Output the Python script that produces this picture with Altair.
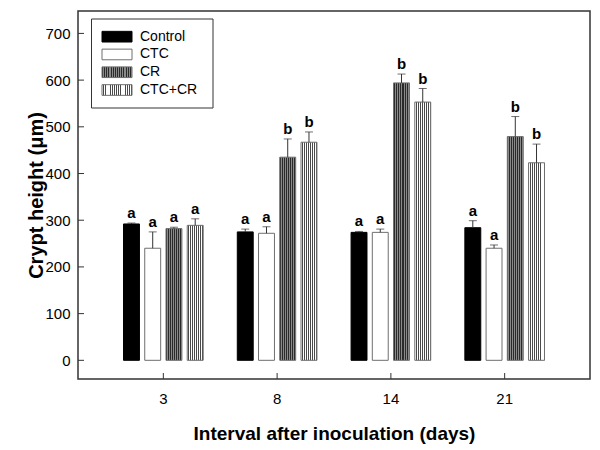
import altair as alt
import pandas as pd

groups = ["3", "8", "14", "21"]
treatments = ["Control", "CTC", "CR", "CTC+CR"]

mean_control = [292, 275, 274, 284]
mean_ctc = [240, 272, 274, 240]
mean_cr = [282, 435, 594, 479]
mean_ctccr = [289, 467, 553, 423]

err_control = [2, 6, 2, 15]
err_ctc = [35, 14, 7, 7]
err_cr = [3, 39, 19, 43]
err_ctccr = [14, 22, 29, 40]

let_control = ["a", "a", "a", "a"]
let_ctc = ["a", "a", "a", "a"]
let_cr = ["a", "b", "b", "b"]
let_ctccr = ["a", "b", "b", "b"]

y_ticks = [0, 100, 200, 300, 400, 500, 600, 700]

means = [mean_control, mean_ctc, mean_cr, mean_ctccr]
errs = [err_control, err_ctc, err_cr, err_ctccr]
lets = [let_control, let_ctc, let_cr, let_ctccr]

rows = []
for gi, g in enumerate(groups):
    for ti, t in enumerate(treatments):
        rows.append({"group": g, "treatment": t, "mean": means[ti][gi],
                     "err": errs[ti][gi], "letter": lets[ti][gi]})
df = pd.DataFrame(rows)


def stripes(c1, c2, n, frac):
    stops = []
    for i in range(n):
        a = i / n
        b = (i + frac) / n
        c = (i + 1) / n
        stops += [{"offset": a, "color": c1}, {"offset": b, "color": c1},
                  {"offset": b, "color": c2}, {"offset": c, "color": c2}]
    return {"gradient": "linear", "x1": 0, "y1": 0, "x2": 1, "y2": 0, "stops": stops}


def fill_cond(n):
    return {
        "condition": [
            {"test": "datum.treatment === 'Control'", "value": "#000000"},
            {"test": "datum.treatment === 'CTC'", "value": "#ffffff"},
            {"test": "datum.treatment === 'CR'", "value": stripes("#2a2a2a", "#8a8a8a", n, 0.5)},
        ],
        "value": stripes("#ffffff", "#4a4a4a", n, 0.6),
    }


stroke_cond = {
    "condition": [{"test": "datum.treatment === 'Control'", "value": "#000000"}],
    "value": "#6f6f6f",
}

x_enc = alt.X("group:N", sort=groups,
              scale=alt.Scale(paddingInner=0.3, paddingOuter=0.4),
              axis=alt.Axis(ticks=False, domain=False, grid=False, labelAngle=0,
                            labelPadding=12, labelFontSize=15,
                            title="Interval after inoculation (days)",
                            titleFontSize=19, titleFontWeight="bold",
                            titleY=54, titleBaseline="middle"))
x_plain = alt.X("group:N", sort=groups)
xo_enc = alt.XOffset("treatment:N", sort=treatments,
                     scale=alt.Scale(paddingInner=0.25, paddingOuter=0))

y_enc = alt.Y("mean:Q", scale=alt.Scale(domain=[-40, 748], nice=False),
              axis=alt.Axis(values=y_ticks, ticks=False, domain=False, grid=False,
                            labelPadding=8, labelFontSize=15,
                            title="Crypt height (μm)", titleFontSize=20,
                            titleFontWeight="bold", titleX=-42, titleY=184,
                            titleAngle=270, titleAlign="center",
                            titleBaseline="middle"))

base = alt.Chart(df).transform_calculate(top="datum.mean + datum.err")

bars = base.mark_bar(strokeWidth=1).encode(
    x=x_enc, xOffset=xo_enc, y=y_enc, fill=fill_cond(8), stroke=stroke_cond)

err_rule = base.mark_rule(color="#333333", strokeWidth=1).encode(
    x=x_plain, xOffset=xo_enc, y=alt.Y("mean:Q"), y2=alt.Y2("top:Q"))

err_cap = base.mark_tick(color="#333333", size=8, thickness=1).encode(
    x=x_plain, xOffset=xo_enc, y=alt.Y("top:Q"))

letters = base.mark_text(fontWeight="bold", fontSize=15, baseline="alphabetic",
                         dy=-5, color="black").encode(
    x=x_plain, xOffset=xo_enc, y=alt.Y("top:Q"), text="letter:N")

x_ticks = alt.Chart(pd.DataFrame({"group": groups})).mark_rule(
    color="#333333", strokeWidth=1).encode(
    x=x_plain, y=alt.value(362), y2=alt.value(368))

y_tick_marks = alt.Chart(pd.DataFrame({"mean": y_ticks})).mark_rule(
    color="#333333", strokeWidth=1).encode(
    y=alt.Y("mean:Q"), x=alt.value(0), x2=alt.value(6))

main = alt.layer(bars, err_rule, err_cap, letters, x_ticks, y_tick_marks)

leg_df = pd.DataFrame({"treatment": treatments})
leg_y = alt.Y("treatment:N", sort=treatments,
              scale=alt.Scale(range=[16.8, 87.9], paddingInner=0.4, paddingOuter=0.2),
              axis=None)

leg_box = alt.Chart(pd.DataFrame({"k": [0]})).mark_rect(
    fill="white", stroke="#333333", strokeWidth=1).encode(
    x=alt.value(13.5), x2=alt.value(135), y=alt.value(8), y2=alt.value(97))

leg_rect = alt.Chart(leg_df).mark_rect(strokeWidth=1).encode(
    x=alt.value(24), x2=alt.value(54), y=leg_y, fill=fill_cond(14), stroke=stroke_cond)

leg_text = alt.Chart(leg_df).mark_text(align="left", baseline="middle",
                                       fontSize=14, color="black").encode(
    x=alt.value(62), y=leg_y, text="treatment:N")

legend = alt.layer(leg_box, leg_rect, leg_text)

chart = alt.layer(main, legend).resolve_scale(y="independent").properties(
    width=512, height=368,
    padding={"left": 70, "top": 3, "right": 2, "bottom": 68},
    autosize=alt.AutoSizeParams(type="none"),
).configure(font="Liberation Sans").configure_view(
    stroke="#333333", strokeWidth=1.5
).configure_axis(labelColor="black", titleColor="black")

chart.save("out.html", embed_options={"renderer": "svg", "actions": False})
